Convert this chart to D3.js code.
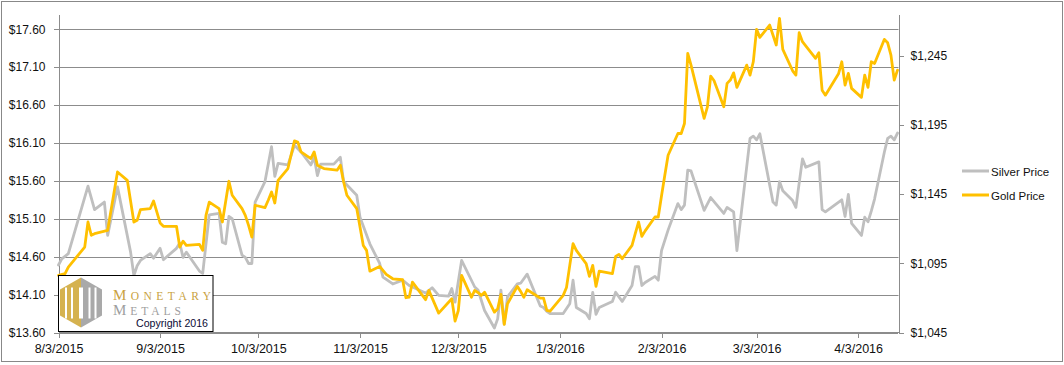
<!DOCTYPE html>
<html>
<head>
<meta charset="utf-8">
<script src="https://cdn.jsdelivr.net/npm/d3@7"></script>
<style>
  html, body { margin: 0; padding: 0; background: #fff; }
  svg { display: block; }
</style>
</head>
<body>
<svg id="chart" width="1064" height="365"></svg>
<script>
// ---- data ----
var silverDates = ["2015-08-03","2015-08-04","2015-08-06","2015-08-12","2015-08-14","2015-08-17","2015-08-18","2015-08-21","2015-08-25","2015-08-26","2015-08-27","2015-08-28","2015-08-31",
  "2015-09-01","2015-09-03","2015-09-04","2015-09-08","2015-09-09","2015-09-10","2015-09-11","2015-09-15","2015-09-16","2015-09-18","2015-09-21","2015-09-22","2015-09-23","2015-09-24","2015-09-25","2015-09-28","2015-09-29","2015-09-30",
  "2015-10-01","2015-10-02","2015-10-05","2015-10-07","2015-10-08","2015-10-09","2015-10-12","2015-10-14","2015-10-16","2015-10-19","2015-10-20","2015-10-21","2015-10-22","2015-10-26","2015-10-28","2015-10-29",
  "2015-11-02","2015-11-03","2015-11-06","2015-11-09","2015-11-10","2015-11-13","2015-11-16","2015-11-18","2015-11-23","2015-11-25","2015-11-27","2015-11-30",
  "2015-12-01","2015-12-02","2015-12-04","2015-12-08","2015-12-09","2015-12-11","2015-12-14","2015-12-15","2015-12-16","2015-12-17","2015-12-18","2015-12-21","2015-12-22","2015-12-24","2015-12-28","2015-12-29","2015-12-30","2015-12-31",
  "2016-01-04","2016-01-06","2016-01-07","2016-01-08","2016-01-11","2016-01-12","2016-01-13","2016-01-14","2016-01-15","2016-01-19","2016-01-20","2016-01-22","2016-01-25","2016-01-26","2016-01-27","2016-01-28","2016-01-29",
  "2016-02-01","2016-02-02","2016-02-03","2016-02-05","2016-02-08","2016-02-09","2016-02-10","2016-02-11","2016-02-12","2016-02-16","2016-02-18","2016-02-22","2016-02-23","2016-02-24","2016-02-25","2016-02-26",
  "2016-03-01","2016-03-02","2016-03-03","2016-03-04","2016-03-08","2016-03-09","2016-03-10","2016-03-11","2016-03-14","2016-03-15","2016-03-17","2016-03-18","2016-03-22","2016-03-23","2016-03-24","2016-03-29","2016-03-30","2016-03-31",
  "2016-04-01","2016-04-04","2016-04-05","2016-04-06","2016-04-07","2016-04-08","2016-04-11","2016-04-12","2016-04-13","2016-04-14","2016-04-15"];
var silverPrices = [14.49,14.57,14.64,15.53,15.22,15.32,14.88,15.52,14.66,14.35,14.48,14.55,14.64,
  14.58,14.71,14.56,14.71,14.78,14.59,14.66,14.41,14.38,15.15,15.17,14.79,14.77,15.13,15.10,14.62,14.59,14.51,
  14.51,15.32,15.59,16.05,15.66,15.83,15.81,16.07,15.98,15.81,15.91,15.67,15.82,15.82,15.91,15.59,
  15.41,15.12,14.77,14.51,14.33,14.24,14.29,14.22,14.12,14.19,14.09,14.08,
  14.18,14.00,14.55,14.20,14.16,13.89,13.66,13.78,14.16,13.71,14.07,14.24,14.25,14.37,13.95,13.93,13.88,13.85,
  13.85,13.98,14.29,13.93,13.85,13.78,14.13,13.84,13.93,14.01,14.13,14.01,14.22,14.47,14.47,14.22,14.26,
  14.34,14.29,14.68,14.95,15.30,15.22,15.28,15.74,15.73,15.21,15.38,15.17,15.25,15.22,15.19,14.68,
  16.16,16.19,16.14,16.22,15.32,15.28,15.59,15.47,15.34,15.25,15.89,15.78,15.85,15.22,15.19,15.35,15.13,15.42,
  15.04,14.88,15.12,15.06,15.20,15.36,15.98,16.16,16.19,16.14,16.23];

var goldDates = ["2015-08-03","2015-08-05","2015-08-06","2015-08-11","2015-08-12","2015-08-13","2015-08-14","2015-08-18","2015-08-21","2015-08-24","2015-08-26","2015-08-27","2015-08-28","2015-08-31",
  "2015-09-01","2015-09-03","2015-09-04","2015-09-08","2015-09-09","2015-09-10","2015-09-11","2015-09-15","2015-09-16","2015-09-17","2015-09-18","2015-09-21","2015-09-22","2015-09-24","2015-09-25","2015-09-28","2015-09-29","2015-09-30",
  "2015-10-01","2015-10-02","2015-10-05","2015-10-06","2015-10-07","2015-10-08","2015-10-09","2015-10-12","2015-10-14","2015-10-15","2015-10-16","2015-10-19","2015-10-20","2015-10-21","2015-10-22","2015-10-23","2015-10-27","2015-10-28","2015-10-29","2015-10-30",
  "2015-11-02","2015-11-04","2015-11-05","2015-11-06","2015-11-09","2015-11-11","2015-11-13","2015-11-16","2015-11-17","2015-11-18","2015-11-19","2015-11-23","2015-11-24","2015-11-27",
  "2015-12-01","2015-12-02","2015-12-03","2015-12-04","2015-12-07","2015-12-08","2015-12-09","2015-12-10","2015-12-11","2015-12-14","2015-12-15","2015-12-16","2015-12-17","2015-12-18","2015-12-21","2015-12-22","2015-12-23","2015-12-24","2015-12-28","2015-12-29","2015-12-30","2015-12-31",
  "2016-01-04","2016-01-05","2016-01-06","2016-01-07","2016-01-08","2016-01-11","2016-01-12","2016-01-13","2016-01-14","2016-01-15","2016-01-19","2016-01-20","2016-01-21","2016-01-22","2016-01-25","2016-01-26","2016-01-27","2016-01-28","2016-01-29",
  "2016-02-01","2016-02-02","2016-02-03","2016-02-04","2016-02-05","2016-02-08","2016-02-09","2016-02-10","2016-02-11","2016-02-12","2016-02-16","2016-02-17","2016-02-18","2016-02-19","2016-02-22","2016-02-23","2016-02-24","2016-02-25","2016-02-26","2016-02-29",
  "2016-03-01","2016-03-02","2016-03-03","2016-03-04","2016-03-07","2016-03-08","2016-03-09","2016-03-10","2016-03-11","2016-03-14","2016-03-15","2016-03-16","2016-03-17","2016-03-18","2016-03-21","2016-03-22","2016-03-23","2016-03-24","2016-03-28","2016-03-29","2016-03-30","2016-03-31",
  "2016-04-01","2016-04-04","2016-04-05","2016-04-06","2016-04-07","2016-04-08","2016-04-11","2016-04-12","2016-04-13","2016-04-14","2016-04-15"];
var goldPrices = [1086.2,1087.5,1092.2,1106.7,1124.8,1115.2,1116.4,1118.8,1160.9,1154.9,1124.8,1126.0,1133.7,1134.5,
  1140.0,1124.1,1121.7,1121.7,1106.7,1111.0,1107.9,1108.6,1104.3,1129.6,1139.2,1134.5,1124.8,1154.2,1144.1,1134.4,1129.6,1122.4,
  1113.9,1136.9,1135.2,1140.5,1146.5,1138.5,1154.9,1163.4,1183.4,1182.6,1175.4,1170.6,1175.4,1165.8,1164.6,1163.4,1162.2,1165.8,1153.7,1144.1,
  1134.5,1107.9,1104.3,1089.3,1092.7,1087.0,1083.8,1083.1,1070.1,1070.5,1081.4,1068.7,1075.4,1059.0,
  1069.4,1053.2,1060.9,1086.2,1070.5,1075.4,1073.9,1071.8,1074.1,1059.7,1062.1,1072.5,1050.8,1065.8,1078.3,1074.7,1070.5,1075.9,1069.8,1069.8,1060.9,1060.4,
  1071.8,1077.5,1093.5,1109.2,1104.3,1094.7,1085.5,1093.5,1078.3,1089.3,1087.5,1100.0,1101.4,1098.3,1107.9,1116.6,1124.8,1114.4,1118.4,
  1128.4,1128.4,1143.8,1158.6,1173.0,1188.7,1188.7,1195.9,1246.6,1238.1,1199.6,1208.0,1230.2,1227.0,1208.0,1224.9,1227.3,1232.5,1222.0,1238.1,
  1230.9,1240.5,1263.9,1258.1,1267.0,1259.8,1252.6,1271.9,1249.5,1234.0,1230.9,1261.5,1255.0,1252.0,1243.0,1247.0,1220.0,1216.4,1231.8,1240.5,1223.6,1232.1,
  1221.3,1214.8,1230.9,1222.0,1240.5,1239.3,1256.7,1254.2,1245.3,1227.3,1234.5];

var silverTicks = [13.6, 14.1, 14.6, 15.1, 15.6, 16.1, 16.6, 17.1, 17.6];
var goldTicks = [1045, 1095, 1145, 1195, 1245];
var dateTicks = ["8/3/2015","9/3/2015","10/3/2015","11/3/2015","12/3/2015","1/3/2016","2/3/2016","3/3/2016","4/3/2016"];
var seriesNames = ["Silver Price", "Gold Price"];
var seriesColors = ["#bfbfbf", "#ffc000"];

// ---- setup ----
var parseDate = d3.timeParse("%Y-%m-%d");
var parseTick = d3.timeParse("%m/%d/%Y");
var svg = d3.select("#chart");
var plot = {left: 58.5, right: 898.5, top: 14, bottom: 332.5};
var gridColor = "#8c8c8c";
var font = "'Liberation Sans', Arial, sans-serif";

// outer chart border
svg.append("rect")
  .attr("x", 1.5).attr("y", 1.5)
  .attr("width", 1061).attr("height", 360)
  .attr("fill", "#fff").attr("stroke", "#888").attr("stroke-width", 1);

var x = d3.scaleTime()
  .domain([parseDate("2015-08-03"), parseDate("2016-04-15")])
  .range([plot.left, 897.5]);
var ySilver = d3.scaleLinear().domain([13.6, 17.8]).range([plot.bottom, plot.top]);
var yGold = d3.scaleLinear().domain([1045, 1275]).range([plot.bottom, plot.top]);

// gridlines
svg.append("g").selectAll("line")
  .data(silverTicks.slice(1))
  .enter().append("line")
    .attr("x1", plot.left).attr("x2", plot.right)
    .attr("y1", function(d){ return Math.round(ySilver(d)) + 0.5; })
    .attr("y2", function(d){ return Math.round(ySilver(d)) + 0.5; })
    .attr("stroke", gridColor).attr("stroke-width", 1);

// axes
function styleAxis(g, size) {
  g.attr("color", gridColor).attr("font-family", font).attr("font-size", size)
    .style("shape-rendering", "crispEdges");
  g.selectAll("text").attr("fill", "#111");
}

svg.append("g")
  .attr("transform", "translate(" + plot.left + ",0)")
  .call(d3.axisLeft(ySilver).tickValues(silverTicks).tickFormat(d3.format("$.2f"))
    .tickSize(5).tickSizeOuter(0).tickPadding(8))
  .call(styleAxis, 12);

svg.append("g")
  .attr("transform", "translate(" + plot.right + ",0)")
  .call(d3.axisRight(yGold).tickValues(goldTicks).tickFormat(d3.format("$,.0f"))
    .tickSize(5).tickSizeOuter(0).tickPadding(7))
  .call(styleAxis, 12);

svg.append("g")
  .attr("transform", "translate(0," + plot.bottom + ")")
  .call(d3.axisBottom(x).tickValues(dateTicks.map(parseTick)).tickFormat(d3.timeFormat("%-m/%-d/%Y"))
    .tickSize(5).tickSizeOuter(0).tickPadding(7))
  .call(styleAxis, 12.5);

svg.append("line")
  .attr("x1", plot.left).attr("x2", plot.right)
  .attr("y1", plot.bottom).attr("y2", plot.bottom)
  .attr("stroke", gridColor).style("shape-rendering", "crispEdges");

// lines
var series = [
  {dates: silverDates, values: silverPrices, y: ySilver},
  {dates: goldDates, values: goldPrices, y: yGold}
];
series.forEach(function(s, i) {
  var pts = s.dates.map(function(d, j){ return [parseDate(d), s.values[j]]; });
  svg.append("path")
    .datum(pts)
    .attr("fill", "none")
    .attr("stroke", seriesColors[i])
    .attr("stroke-width", 2.8)
    .attr("stroke-linejoin", "round")
    .attr("stroke-linecap", "round")
    .attr("d", d3.line().x(function(p){ return x(p[0]); }).y(function(p){ return s.y(p[1]); }));
});

// legend
var legend = svg.append("g").selectAll("g")
  .data(seriesNames)
  .enter().append("g")
    .attr("transform", function(d, i){ return "translate(962," + (171 + i * 24) + ")"; });
legend.append("line")
  .attr("x1", 0).attr("x2", 27)
  .attr("stroke", function(d, i){ return seriesColors[i]; })
  .attr("stroke-width", 3);
legend.append("text")
  .attr("x", 29).attr("y", 4.5)
  .attr("font-family", font).attr("font-size", 11.5)
  .attr("fill", "#111")
  .text(function(d){ return d; });

// logo box
var logo = svg.append("g");
logo.append("rect")
  .attr("x", 58.5).attr("y", 275.5).attr("width", 154.5).attr("height", 56)
  .attr("fill", "#fff").attr("stroke", "#000").attr("stroke-width", 1);

var hx = 81, hy = 302.5, hw = 21, hh = 25;
logo.append("polygon")
  .attr("points", [[hx - hw, hy - 13], [hx, hy - hh], [hx, hy + hh], [hx - hw, hy + 13]].join(" "))
  .attr("fill", "#d5b24f");
logo.append("polygon")
  .attr("points", [[hx, hy - hh], [hx + hw, hy - 13], [hx + hw, hy + 13], [hx, hy + hh]].join(" "))
  .attr("fill", "#a9a9a9");
[-15, -9, -1, 1, 8.5, 14.5].forEach(function(dx) {
  logo.append("rect")
    .attr("x", hx + dx - 1).attr("y", hy - 15)
    .attr("width", 2).attr("height", 31)
    .attr("fill", "#fff");
});

var serif = "'Liberation Serif', 'DejaVu Serif', serif";
var t1 = logo.append("text")
  .attr("x", 113).attr("y", 300)
  .attr("font-family", serif).attr("fill", "#c9a23f")
  .attr("textLength", 98).attr("lengthAdjust", "spacing");
t1.append("tspan").attr("font-size", 15).text("M");
t1.append("tspan").attr("font-size", 11.5).text("ONETARY");

var t2 = logo.append("text")
  .attr("x", 113).attr("y", 315)
  .attr("font-family", serif).attr("fill", "#9e9e9e")
  .attr("textLength", 68).attr("lengthAdjust", "spacing");
t2.append("tspan").attr("font-size", 15).text("M");
t2.append("tspan").attr("font-size", 11.5).text("ETALS");

logo.append("text")
  .attr("x", 136).attr("y", 327)
  .attr("font-family", font).attr("font-size", 11)
  .attr("fill", "#0b0b35")
  .attr("textLength", 72).attr("lengthAdjust", "spacingAndGlyphs")
  .text("Copyright 2016");
</script>
</body>
</html>
